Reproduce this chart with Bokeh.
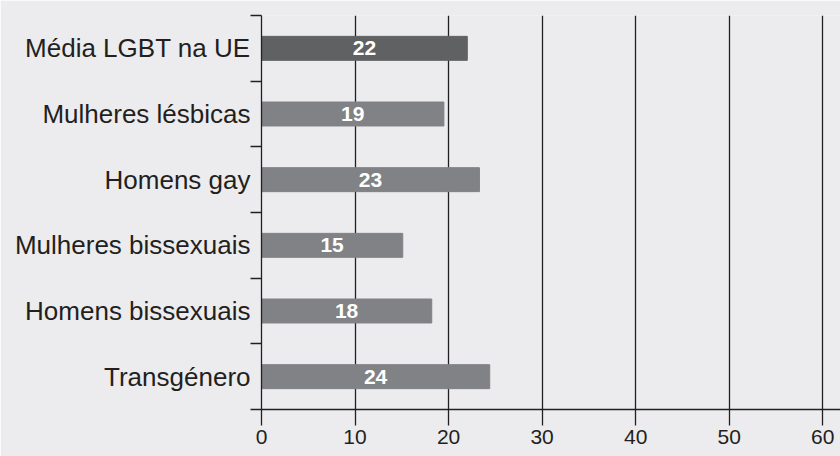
from bokeh.plotting import figure
from bokeh.models import ColumnDataSource, FixedTicker, Range1d
from bokeh.core.properties import value
from bokeh.embed import file_html
from bokeh.resources import INLINE

categories = ["Média LGBT na UE", "Mulheres lésbicas", "Homens gay",
              "Mulheres bissexuais", "Homens bissexuais", "Transgénero"]
values = [22.0, 19.5, 23.3, 15.1, 18.2, 24.4]
bar_labels = ["22", "19", "23", "15", "18", "24"]
x_ticks = [0, 10, 20, 30, 40, 50, 60]

bg = "#ececee"
ink = "#231f20"
colors = ["#606163"] + ["#808285"] * (len(categories) - 1)

n = len(categories)
ys = [n - i - 0.5 for i in range(n)]

src = ColumnDataSource(dict(
    y=ys, right=values, mid=[v / 2 for v in values],
    lab=bar_labels, color=colors, cat=categories))

p = figure(width=840, height=456, output_backend="svg", toolbar_location=None,
           x_range=Range1d(0, 61.9), y_range=Range1d(0, n),
           min_border_left=261, min_border_right=0, min_border_top=15,
           min_border_bottom=47,
           background_fill_color=bg, border_fill_color=bg, outline_line_color=None)

p.hbar(y="y", left=0, right="right", height=0.365, color="color", source=src)
p.text(x="mid", y="y", text="lab", source=src, text_align="center",
       text_baseline="middle", text_color="white",
       text_font=value("Liberation Sans"), text_font_style="bold",
       text_font_size="21px")

# x axis
p.xaxis.ticker = FixedTicker(ticks=x_ticks)
p.xaxis.axis_line_color = ink
p.xaxis.axis_line_width = 1.3
p.xaxis.major_tick_line_color = ink
p.xaxis.major_tick_line_width = 1.3
p.xaxis.major_tick_in = 0
p.xaxis.major_tick_out = 16
p.xaxis.minor_tick_line_color = None
p.xaxis.major_label_standoff = 4
p.xaxis.major_label_text_font = "Liberation Sans"
p.xaxis.major_label_text_font_size = "21px"
p.xaxis.major_label_text_color = ink

# y axis: labels at centres, short ticks at boundaries
p.yaxis.ticker = FixedTicker(ticks=ys, minor_ticks=list(range(n + 1)))
p.yaxis.major_label_overrides = {y: c for y, c in zip(ys, categories)}
p.yaxis.axis_line_color = ink
p.yaxis.axis_line_width = 1.3
p.yaxis.major_tick_line_color = None
p.yaxis.major_tick_in = 0
p.yaxis.major_tick_out = 0
p.yaxis.minor_tick_line_color = ink
p.yaxis.minor_tick_line_width = 1.3
p.yaxis.minor_tick_in = 0
p.yaxis.minor_tick_out = 11
p.yaxis.major_label_standoff = 0
p.yaxis.major_label_text_font = "Liberation Sans"
p.yaxis.major_label_text_font_size = "26px"
p.yaxis.major_label_text_color = ink

p.xgrid.ticker = FixedTicker(ticks=x_ticks[1:])
p.xgrid.grid_line_color = ink
p.xgrid.grid_line_width = 1.3
p.ygrid.grid_line_color = None

open("out.html", "w").write(file_html(p, INLINE))
